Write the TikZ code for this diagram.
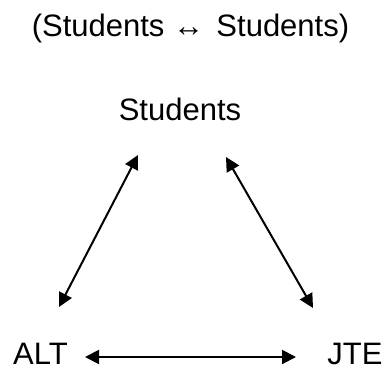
\documentclass[tikz,border=0pt]{standalone}
\usepackage{fontspec}
\setmainfont{Liberation Sans}
\usetikzlibrary{arrows.meta,calc}
\begin{document}
\begin{tikzpicture}[x=1pt,y=-1pt,
  lbl/.style={anchor=base,inner sep=0pt,font=\fontsize{31}{36}\selectfont},
  link/.style={line width=2pt,{Triangle[length=14pt,width=14pt]}-{Triangle[length=14pt,width=14pt]}}]
  \useasboundingbox (0,0) rectangle (385,367);
  \node[lbl] (title) at (190.5,36) {(Students ↔\hspace{0.4em}Students)};
  \node[lbl] (stu) at (180,120) {Students};
  \node[lbl] (alt) at (40.5,364) {ALT};
  \node[lbl] (jte) at (355,364) {JTE};
  % links between the three parties
  \draw[link] ($(stu.base)+(-42,35)$) -- ($(alt.base)+(18.5,-57)$);
  \draw[link] ($(stu.base)+(46,37)$) -- ($(jte.base)+(-42,-56)$);
  \draw[link] ($(alt.base)+(44.5,-7)$) -- ($(jte.base)+(-59,-7)$);
\end{tikzpicture}
\end{document}
